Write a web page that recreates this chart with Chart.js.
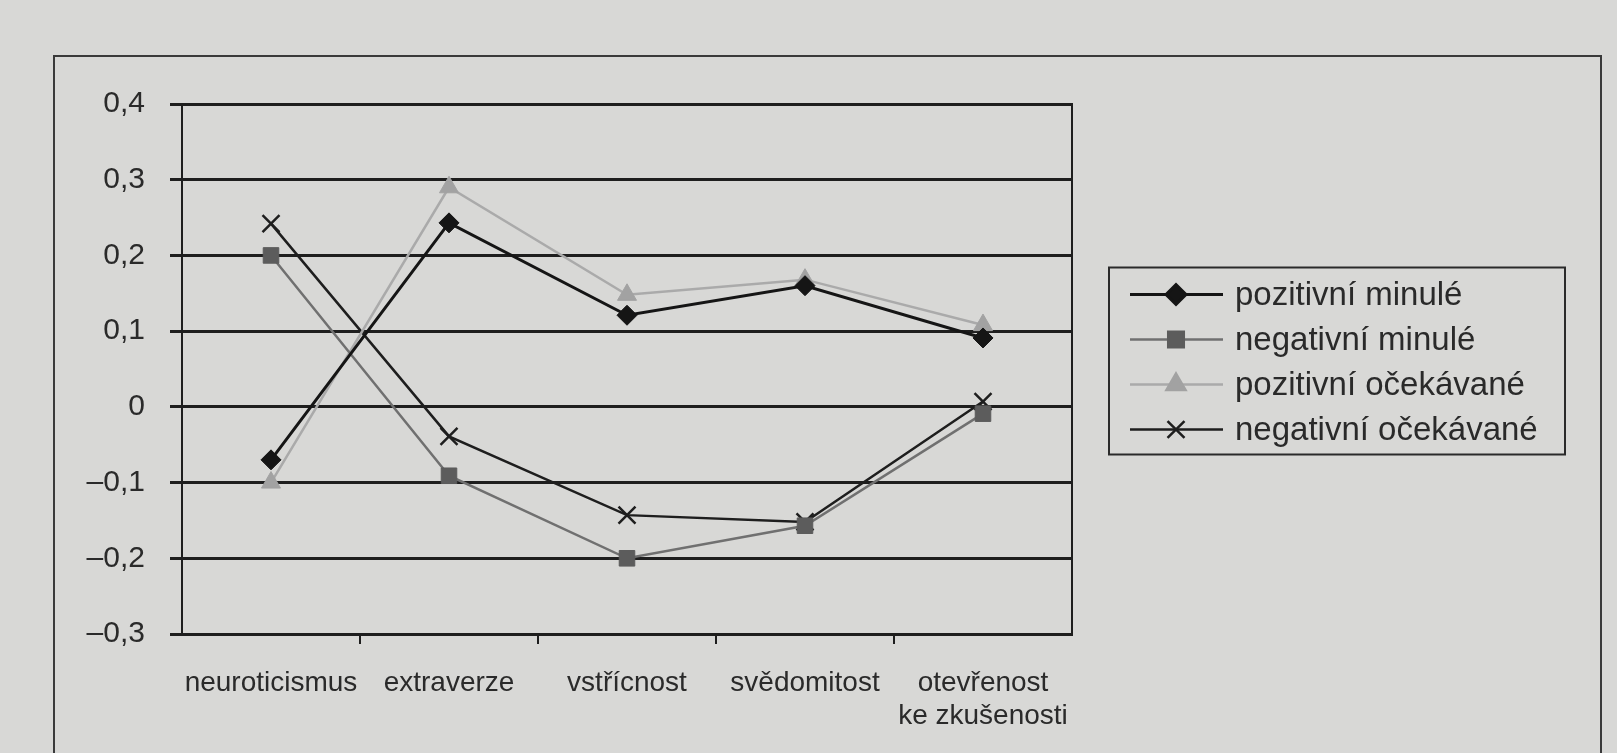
<!DOCTYPE html>
<html>
<head>
<meta charset="utf-8">
<script src="https://cdn.jsdelivr.net/npm/chart.js@4.4.0/dist/chart.umd.min.js"></script>
<style>
  html, body { margin: 0; padding: 0; background: #d8d8d6; }
  #wrap { width: 1617px; height: 753px; }
</style>
</head>
<body>
<div id="wrap"><canvas id="chart" width="1617" height="753"></canvas></div>
<script>
// data
const CATEGORIES = ['neuroticismus', 'extraverze', 'vstřícnost', 'svědomitost', ['otevřenost', 'ke zkušenosti']];
const SERIES_NAMES = ['pozitivní minulé', 'negativní minulé', 'pozitivní očekávané', 'negativní očekávané'];
const POZ_MINULE = [-0.07, 0.243, 0.121, 0.16, 0.091];
const NEG_MINULE = [0.20, -0.091, -0.20, -0.157, -0.009];
const POZ_OCEKAVANE = [-0.10, 0.29, 0.148, 0.168, 0.108];
const NEG_OCEKAVANE = [0.242, -0.039, -0.143, -0.152, 0.007];
const Y_TICKS = [-0.3, -0.2, -0.1, 0, 0.1, 0.2, 0.3, 0.4];
const Y_TICK_LABELS = ['–0,3', '–0,2', '–0,1', '0', '0,1', '0,2', '0,3', '0,4'];

const INK = '#1e1e1e';
const TEXT = '#2a2a2a';
const FONT = "'Liberation Sans', Arial, sans-serif";
const STYLES = [
  { line: '#151515', width: 3, point: 'rectRot', radius: 10, fill: '#151515' },
  { line: '#707070', width: 2.5, point: 'rect', radius: 11, fill: '#5c5c5c' },
  { line: '#aaaaaa', width: 2.5, point: 'triangle', radius: 11, fill: '#a2a2a2' },
  { line: '#1e1e1e', width: 2.5, point: 'crossRot', radius: 12, fill: '#1e1e1e' },
];
const SERIES = [POZ_MINULE, NEG_MINULE, POZ_OCEKAVANE, NEG_OCEKAVANE];

// legend drawn next to the plot: line sample with marker, then name
const boxLegend = {
  id: 'boxLegend',
  afterDraw(chart) {
    const ctx = chart.ctx;
    const area = chart.chartArea;
    const sets = chart.data.datasets;
    const rowH = 45;
    const left = area.right + 37;
    const right = left + 456;
    const mid = (area.top + area.bottom) / 2 - 7;
    const firstY = mid - rowH * (sets.length - 1) / 2;
    ctx.save();
    ctx.strokeStyle = '#2a2a2a';
    ctx.lineWidth = 2;
    ctx.strokeRect(left, firstY - 27, right - left, rowH * (sets.length - 1) + 52);
    sets.forEach((ds, i) => {
      const y = firstY + i * rowH;
      const s = STYLES[i];
      ctx.strokeStyle = s.line;
      ctx.lineWidth = s.width;
      ctx.beginPath();
      ctx.moveTo(left + 21, y);
      ctx.lineTo(left + 114, y);
      ctx.stroke();
      ctx.fillStyle = s.fill;
      ctx.strokeStyle = s.fill;
      Chart.helpers.drawPoint(ctx, { pointStyle: s.point, radius: s.radius, rotation: 0, borderWidth: s.point === 'crossRot' ? 2.5 : 1 }, left + 67, y);
      ctx.fillStyle = TEXT;
      ctx.font = '33px ' + FONT;
      ctx.textBaseline = 'middle';
      ctx.textAlign = 'left';
      ctx.fillText(ds.label, left + 126, y + 1);
    });
    ctx.restore();
  }
};

const paperFrame = {
  id: 'paperFrame',
  beforeDraw(chart) {
    const ctx = chart.ctx;
    ctx.save();
    ctx.strokeStyle = '#3a3a3a';
    ctx.lineWidth = 2;
    ctx.strokeRect(54, 56, 1547, 760);
    ctx.restore();
  }
};

new Chart(document.getElementById('chart'), {
  type: 'line',
  data: {
    labels: CATEGORIES,
    datasets: SERIES.map((vals, i) => ({
      label: SERIES_NAMES[i],
      data: vals,
      borderColor: STYLES[i].line,
      borderWidth: STYLES[i].width,
      tension: 0,
      pointStyle: STYLES[i].point,
      pointRadius: STYLES[i].radius,
      pointBackgroundColor: STYLES[i].fill,
      pointBorderColor: STYLES[i].fill,
      pointBorderWidth: STYLES[i].point === 'crossRot' ? 2.5 : 1,
      yAxisID: 'y',
    })),
  },
  options: {
    responsive: false,
    animation: false,
    layout: { padding: { left: 0, right: 544, top: 104, bottom: 0 } },
    plugins: {
      tooltip: { enabled: false },
      legend: { display: false },
    },
    scales: {
      x: {
        type: 'category',
        offset: true,
        afterFit: (s) => { s.height = 119; },
        grid: {
          offset: true,
          drawOnChartArea: false,
          tickLength: 10,
          lineWidth: 2,
          color: (ctx) => (ctx.type !== 'tick' || ctx.index === 0) ? 'rgba(0,0,0,0)' : INK,
        },
        border: { display: true, color: INK, width: 3 },
        ticks: {
          autoSkip: false,
          maxRotation: 0,
          padding: 23,
          color: TEXT,
          font: { family: FONT, size: 28, lineHeight: 1.18 },
        },
      },
      y: {
        type: 'linear',
        position: 'left',
        min: -0.3,
        max: 0.4,
        afterFit: (s) => { s.width = 182; },
        afterBuildTicks: (s) => { s.ticks = Y_TICKS.map((v) => ({ value: v })); },
        grid: { color: INK, lineWidth: 3, tickLength: 12 },
        border: { display: true, color: INK, width: 2 },
        ticks: {
          padding: 25,
          color: TEXT,
          font: { family: FONT, size: 30 },
          callback: (v, i) => Y_TICK_LABELS[i],
        },
      },
      yR: {
        type: 'linear',
        position: 'right',
        min: -0.3,
        max: 0.4,
        afterFit: (s) => { s.width = 1; },
        grid: { drawOnChartArea: false, drawTicks: false },
        border: { display: true, color: INK, width: 2 },
        ticks: { display: false },
      },
    },
  },
  plugins: [paperFrame, boxLegend],
});
</script>
</body>
</html>
